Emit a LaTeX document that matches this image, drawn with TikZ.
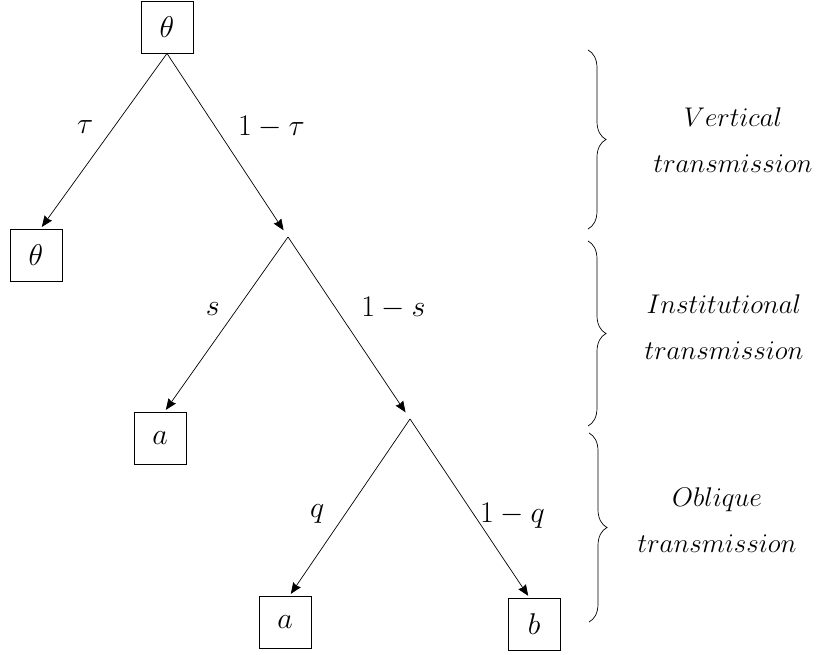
\RequirePackage{fix-cm}
\documentclass[tikz,border=0pt]{standalone}
\usepackage{amsmath}
\usetikzlibrary{arrows.meta,decorations.pathreplacing}

\begin{document}
\begin{tikzpicture}[x=1pt,y=-1pt,->,>={Stealth[length=11pt,width=9pt,inset=1pt]},shorten >=2pt,
  line width=0.7pt,
  leaf node/.style={rectangle,draw,line width=0.9pt,minimum size=52pt,inner sep=0pt,font=\fontsize{30}{34}\selectfont},
  phase/.style={align=center,font=\fontsize{27}{46}\selectfont},
  stage brace/.style={-,shorten >=0pt,decorate,decoration={brace,amplitude=18pt}}]

  \useasboundingbox (0,0) rectangle (825,655);

  \node[leaf node] (root) at (167,27) {$\theta$};
  \node[leaf node] (theta) at (36,255) {$\theta$};
  \coordinate (n1) at (288,237);
  \node[leaf node] (a1) at (160,438) {$a$};
  \coordinate (n2) at (410,419);
  \node[leaf node] (a2) at (285,622) {$a$};
  \node[leaf node] (b) at (534,624) {$b$};

  \path[every node/.style={font=\fontsize{30}{34}\selectfont}]
  (root.south) edge node[left,pos=0.42,xshift=-17pt] {$\tau$} (theta.80)
  edge[shorten >=8pt] node[right,pos=0.40,xshift=19pt] {$1-\tau$} (n1)
  (n1) edge node[left,pos=0.41,xshift=-14pt] {$s$} (a1.80)
  edge[shorten >=8pt] node[right,pos=0.39,xshift=22pt] {$1-s$} (n2)
  (n2) edge node[left,pos=0.54,xshift=-17pt] {$q$} (a2.80)
  edge node[right,pos=0.54,xshift=2pt] {$1-q$} (b.100);

  % stages
  \draw[stage brace] (588,50) -- (588,229);
  \draw[stage brace] (588,241) -- (588,426);
  \draw[stage brace] (589,433) -- (589,622);

  \node[phase] (vert) at (733,140) {$Vertical$\\$transmission$};
  \node[phase] (inst) at (724,327) {$Institutional$\\$transmission$};
  \node[phase] (obl) at (717,520) {$Oblique$\\$transmission$};
\end{tikzpicture}
\end{document}
